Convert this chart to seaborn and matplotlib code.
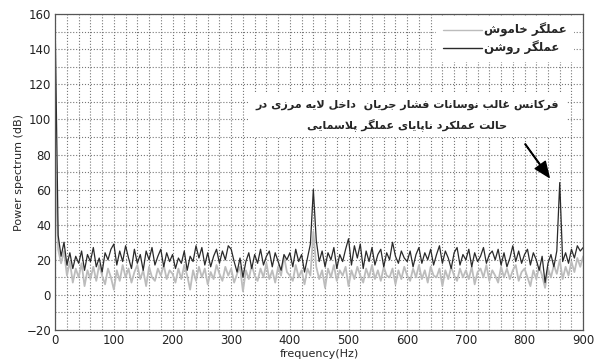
import numpy as np
import matplotlib
matplotlib.use('Agg')
import matplotlib.pyplot as plt
from matplotlib.lines import Line2D
import pandas as pd
import seaborn as sns

# frequency axis, every 5 Hz from 0 to 900
freq = list(range(0, 905, 5))

# actuator on (dark trace)
on_db = [152, 34, 22, 30, 17, 24, 15, 22, 18, 25, 14, 23, 19, 27, 16, 21, 13, 24, 20, 26,
         29, 17, 25, 19, 28, 21, 15, 26, 18, 23, 14, 25, 20, 27, 17, 22, 26, 16, 24, 19,
         23, 15, 21, 18, 25, 14, 22, 19, 28, 21, 27, 17, 24, 16, 22, 26, 18, 25, 20, 28,
         26, 19, 13, 21, 10, 19, 24, 15, 23, 18, 26, 17, 22, 25, 16, 24, 19, 14, 23, 20,
         24, 16, 26, 19, 23, 13, 21, 29, 60, 31, 19, 25, 16, 24, 20, 27, 15, 23, 19, 26,
         32, 17, 28, 21, 29, 15, 25, 19, 27, 17, 23, 26, 16, 24, 20, 30, 22, 18, 25, 21,
         19, 25, 16, 23, 27, 18, 24, 20, 26, 17, 23, 28, 18, 25, 21, 15, 24, 27, 17, 23,
         20, 26, 16, 24, 19, 22, 27, 18, 23, 25, 20, 26, 17, 24, 16, 21, 28, 19, 25, 18,
         23, 26, 17, 24, 20, 14, 22, 7, 18, 23, 16, 25, 64, 19, 24, 18, 26, 21, 28, 25,
         27]

# actuator off (light trace)
off_db = [78, 26, 18, 25, 11, 19, 7, 15, 10, 18, 5, 14, 9, 16, 8, 17, 11, 6, 15, 10,
          3, 14, 8, 17, 10, 15, 7, 13, 17, 9, 14, 5, 16, 10, 8, 15, 11, 17, 9, 14,
          12, 7, 15, 9, 17, 11, 3, 14, 8, 16, 10, 15, 6, 13, 9, 17, 12, 8, 16, 11,
          15, 7, 12, 16, 2, 14, 9, 17, 11, 8, 15, 10, 18, 9, 14, 7, 16, 11, 22, 13,
          11, 8, 17, 10, 14, 6, 15, 11, 36, 16, 9, 14, 4, 15, 10, 17, 8, 14, 11, 16,
          5, 14, 9, 16, 11, 7, 15, 10, 17, 9, 14, 8, 16, 11, 10, 15, 6, 14, 9, 16,
          11, 8, 15, 10, 17, 9, 14, 7, 16, 11, 10, 15, 5, 14, 9, 16, 11, 8, 15, 10,
          14, 9, 16, 6, 13, 15, 10, 17, 8, 14, 11, 7, 16, 10, 15, 9, 14, 17, 8, 13,
          15, 10, 5, 14, 9, 16, 11, 4, 15, 10, 17, 12, 20, 9, 16, 11, 19, 13, 21, 16,
          22]

label_off = 'عملگر خاموش'
label_on = 'عملگر روشن'
note_lines = ['فرکانس غالب نوسانات فشار جریان  داخل لایه مرزی در',
              'حالت عملکرد ناپایای عملگر پلاسمایی']

x_ticks = list(range(0, 1000, 100))
y_ticks = list(range(-20, 180, 20))

# (isolated, final, initial, medial) presentation forms
FORMS = {
    'ا': ('\uFE8D', '\uFE8E', None, None),
    'د': ('\uFEA9', '\uFEAA', None, None),
    'ر': ('\uFEAD', '\uFEAE', None, None),
    'ز': ('\uFEAF', '\uFEB0', None, None),
    'و': ('\uFEED', '\uFEEE', None, None),
    'ب': ('\uFE8F', '\uFE90', '\uFE91', '\uFE92'),
    'پ': ('\uFB56', '\uFB57', '\uFB58', '\uFB59'),
    'ت': ('\uFE95', '\uFE96', '\uFE97', '\uFE98'),
    'ج': ('\uFE9D', '\uFE9E', '\uFE9F', '\uFEA0'),
    'ح': ('\uFEA1', '\uFEA2', '\uFEA3', '\uFEA4'),
    'خ': ('\uFEA5', '\uFEA6', '\uFEA7', '\uFEA8'),
    'س': ('\uFEB1', '\uFEB2', '\uFEB3', '\uFEB4'),
    'ش': ('\uFEB5', '\uFEB6', '\uFEB7', '\uFEB8'),
    'ع': ('\uFEC9', '\uFECA', '\uFECB', '\uFECC'),
    'غ': ('\uFECD', '\uFECE', '\uFECF', '\uFED0'),
    'ف': ('\uFED1', '\uFED2', '\uFED3', '\uFED4'),
    'ک': ('\uFB8E', '\uFB8F', '\uFB90', '\uFB91'),
    'گ': ('\uFB92', '\uFB93', '\uFB94', '\uFB95'),
    'ل': ('\uFEDD', '\uFEDE', '\uFEDF', '\uFEE0'),
    'م': ('\uFEE1', '\uFEE2', '\uFEE3', '\uFEE4'),
    'ن': ('\uFEE5', '\uFEE6', '\uFEE7', '\uFEE8'),
    'ه': ('\uFEE9', '\uFEEA', '\uFEEB', '\uFEEC'),
    'ی': ('\uFBFC', '\uFBFD', '\uFBFE', '\uFBFF'),
}


def shape(s):
    """join persian letters and put them in visual (right to left) order"""
    out = []
    i = 0
    while i < len(s):
        c = s[i]
        if c not in FORMS:
            out.append(c)
            i += 1
            continue
        prev = s[i - 1] if i > 0 else ''
        jp = prev in FORMS and FORMS[prev][2] is not None
        if c == 'ل' and i + 1 < len(s) and s[i + 1] == 'ا':   # lam-alef
            out.append('\uFEFC' if jp else '\uFEFB')
            i += 2
            continue
        nxt = s[i + 1] if i + 1 < len(s) else ''
        jn = FORMS[c][2] is not None and nxt in FORMS
        iso, fin, ini, med = FORMS[c]
        if jp and jn:
            out.append(med)
        elif jp:
            out.append(fin)
        elif jn:
            out.append(ini)
        else:
            out.append(iso)
        i += 1
    return ''.join(out[::-1])


df = pd.DataFrame({'freq': freq + freq,
                   'db': off_db + on_db,
                   'state': ['off'] * len(freq) + ['on'] * len(freq)})

sns.set_style('white')
plt.rcParams['font.family'] = ['DejaVu Sans']

fig = plt.figure(figsize=(6, 3.63), dpi=100)
ax = fig.add_axes([0.092, 0.091, 0.88, 0.87])

sns.lineplot(data=df[df.state == 'off'], x='freq', y='db', color='#bcbcbc',
             linewidth=1.3, legend=False, ax=ax, estimator=None)
sns.lineplot(data=df[df.state == 'on'], x='freq', y='db', color='#2a2a2a',
             linewidth=0.9, legend=False, ax=ax, estimator=None)

ax.set_xlim(0, 900)
ax.set_ylim(-20, 160)
ax.set_xticks(x_ticks)
ax.set_yticks(y_ticks)
ax.set_xticks(range(0, 920, 20), minor=True)
ax.set_yticks(range(-20, 170, 10), minor=True)
ax.grid(which='both', linestyle=':', color='#777777', linewidth=0.8)
ax.tick_params(which='both', direction='in', length=0, labelsize=8.5, colors='#222222', pad=3)
for sp in ax.spines.values():
    sp.set_color('#555555')
    sp.set_linewidth(0.9)
ax.set_xlabel('frequency(Hz)', fontsize=8, labelpad=1)
ax.set_ylabel('Power spectrum (dB)', fontsize=8, labelpad=2)

handles = [Line2D([], [], color='#bcbcbc', lw=1.0), Line2D([], [], color='#2a2a2a', lw=1.0)]
leg = ax.legend(handles, [shape(label_off), shape(label_on)], loc='upper right',
                bbox_to_anchor=(0.985, 1), borderaxespad=0.15, frameon=True, framealpha=1,
                edgecolor='white', fancybox=False, handlelength=3.3, handletextpad=0.15,
                borderpad=0.6, labelspacing=0.3, prop={'size': 8.5, 'weight': 'bold'})
leg.get_frame().set_linewidth(0)

ax.text(600, 102.5, shape(note_lines[0]) + '\n' + shape(note_lines[1]), ha='center', va='center',
        fontsize=8, fontweight='bold', linespacing=1.75,
        bbox=dict(facecolor='white', edgecolor='none', pad=5))
ax.annotate('', xy=(842, 67), xytext=(801, 86),
            arrowprops=dict(facecolor='black', edgecolor='black', width=0.5, headwidth=9, headlength=11))

fig.savefig('out.png', dpi=100)
